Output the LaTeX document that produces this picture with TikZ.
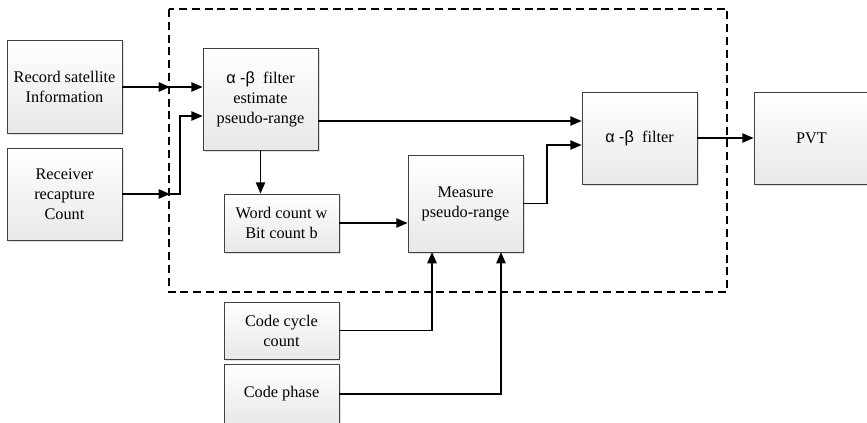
\documentclass[tikz,border=0pt]{standalone}
\usepackage{fontspec}
\setmainfont{Liberation Serif}
\newfontfamily\tms{Liberation Serif}
\newfontfamily\grk{Liberation Sans}
\usetikzlibrary{arrows.meta,shadows}

\begin{document}
\begin{tikzpicture}[x=0.75pt,y=-0.75pt,
    blk/.style={draw=black!75, line width=0.6pt, top color=white, bottom color=black!9,
        drop shadow={shadow xshift=1.2pt, shadow yshift=-1.2pt, fill=black, opacity=0.12},
        minimum width=86.25pt, align=center, inner sep=2pt,
        font=\tms\fontsize{12.2}{15}\selectfont},
    wire/.style={line width=1.1pt},
    arr/.style={wire, -{Triangle[length=8.5pt,width=7pt]}}]

\useasboundingbox (0,0) rectangle (867,422);

% Dashed frame round the filter stage
\draw[line width=1.7pt, dash pattern=on 6pt off 3.6pt] (169,9) rectangle (727,292);

% Blocks
\node[blk, minimum height=69.75pt] (rec) at (64.5,86.5) {Record satellite\\Information};
\node[blk, minimum height=69pt] (rcv) at (64.5,194) {Receiver\\recapture\\Count};
\node[blk, minimum height=76.5pt] (est) at (260.5,99) {{\grk α -β}\ \ filter\\estimate\\pseudo-range};
\node[blk, minimum height=43.5pt] (word) at (281.5,223) {Word count w\\Bit count b};
\node[blk, minimum height=72.75pt] (meas) at (465.5,203.5) {Measure\\pseudo-range};
\node[blk, minimum height=69pt] (filt) at (639.5,138) {{\grk α -β}\ \ filter};
\node[blk, minimum height=69pt] (pvt) at (811.5,138) {PVT};
\node[blk, minimum height=42.75pt] (cyc) at (281.5,330.5) {Code cycle\\count};
\node[blk, minimum height=45pt] (phs) at (281.5,394) {Code phase};

% Points on the frame and bends
\coordinate (inA) at (170,87);
\coordinate (inB) at (170,194);
\coordinate (upB) at (180,116);
\coordinate (topE) at (318,121);
\coordinate (bend) at (547,145);
\coordinate (mA) at (432,252);
\coordinate (mB) at (501,252);

% Inputs across the frame
\draw[arr] (rec.east |- inA) -- (inA);
\draw[arr] (inA) -- (inA -| est.west);
\draw[arr] (rcv.east |- inB) -- (inB);
\draw[arr] (inB) -| (upB) -- (upB -| est.west);

% Inside the frame
\draw[arr] (topE) -- (topE -| filt.west);
\draw[arr] (est.south) -- (est.south |- word.north);
\draw[arr] (word.east) -- (word.east -| meas.west);
\draw[arr] (meas.east) -| (bend) -- (bend -| filt.west);

% Code inputs from below
\draw[arr] (cyc.east) -| (mA);
\draw[arr] (phs.east) -| (mB);

% Output
\draw[arr] (filt.east) -- (pvt.west);

\end{tikzpicture}
\end{document}
